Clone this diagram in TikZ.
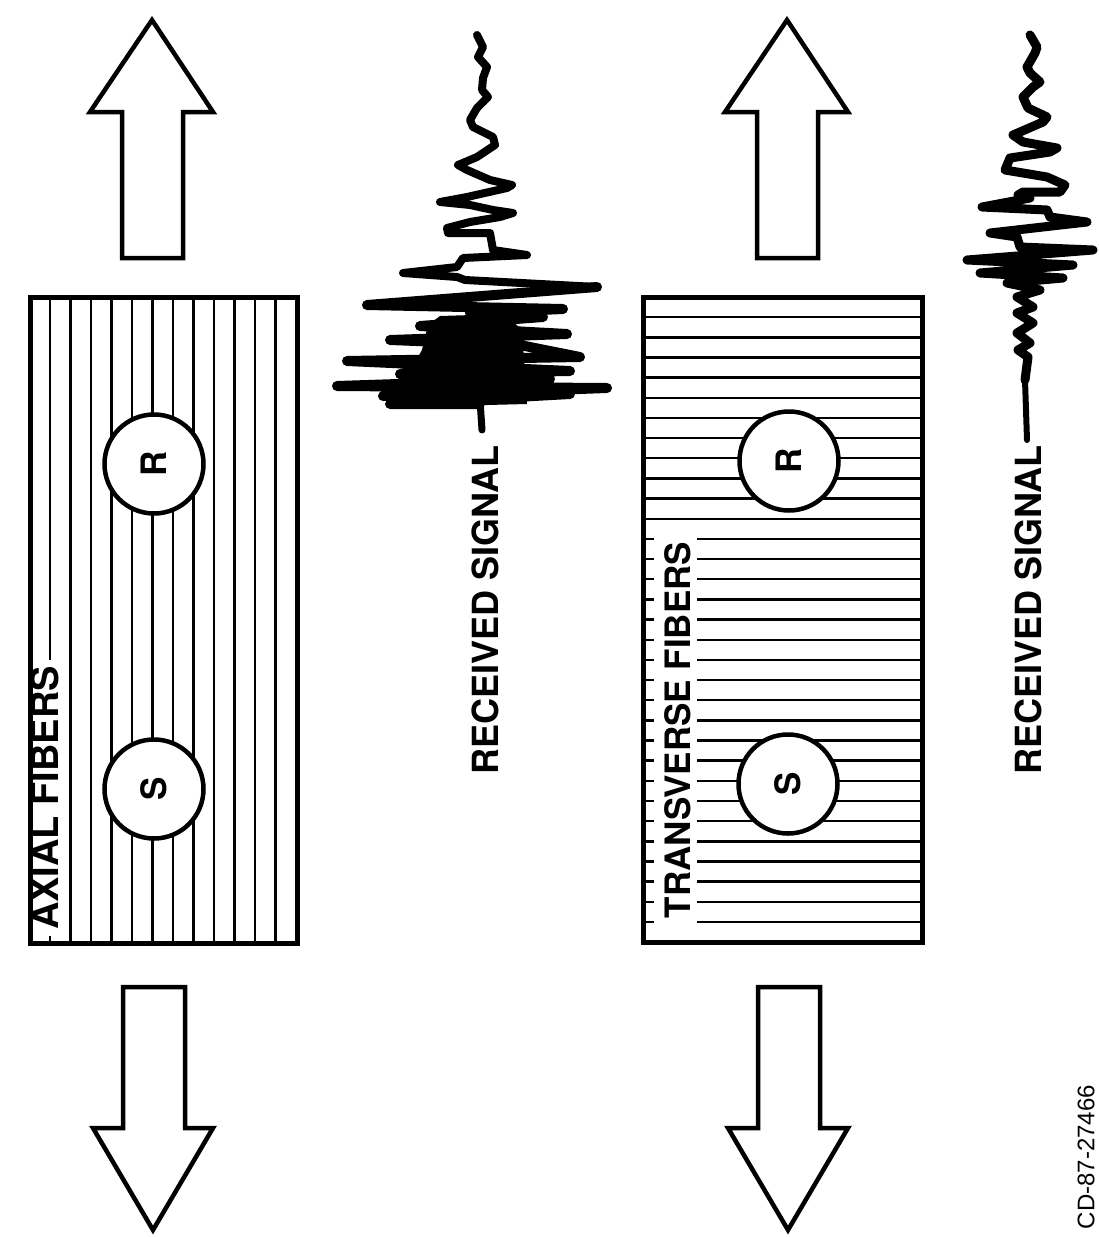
\documentclass[tikz,border=0pt]{standalone}
\usepackage{fontspec}
\setmainfont{TeX Gyre Heros}
\newfontfamily\cdfont{Liberation Sans}
\begin{document}
\begin{tikzpicture}[x=1pt,y=-1pt,
  frame/.style={line width=5pt,line join=miter},
  fiber/.style={line width=2.4pt},
  bigarrow/.style={draw,line width=4.5pt,line join=miter,fill=white},
  sensor/.style={circle,draw,line width=4.5pt,fill=white,minimum size=99pt,inner sep=0pt,
    rotate=90,font=\bfseries\fontsize{35}{35}\selectfont},
  lbl/.style={rotate=90,inner sep=0pt,font=\bfseries\fontsize{36}{36}\selectfont},
  sig/.style={line width=8pt,line join=round,line cap=round}]
\useasboundingbox (0,0) rectangle (1098,1237);

% ---------- arrows ----------
\draw[bigarrow] (152,20) -- (213,112) -- (183,112) -- (183,258) -- (122,258) -- (122,112) -- (90,112) -- cycle;
\draw[bigarrow] (787,20) -- (848,112) -- (818,112) -- (818,258) -- (757,258) -- (757,112) -- (725,112) -- cycle;
\draw[bigarrow] (153,1230) -- (213,1128) -- (185,1128) -- (185,987) -- (123,987) -- (123,1128) -- (93,1128) -- cycle;
\draw[bigarrow] (788,1230) -- (848,1128) -- (820,1128) -- (820,987) -- (758,987) -- (758,1128) -- (728,1128) -- cycle;

% ---------- axial fibers (left panel) ----------
\foreach \k in {1,...,11} \draw[fiber] ({50+20.5*\k},297) -- ({50+20.5*\k},943);
\draw[fiber] (50,297) -- (50,660);
\draw[fiber] (50,936) -- (50,943);
\node[lbl,font=\bfseries\fontsize{38}{38}\selectfont] (axlbl) at (45,798) {AXIAL FIBERS};
\node[sensor] (R1) at (154,464) {R};
\node[sensor] (S1) at (154,789) {S};
\draw[frame] (30,297) rectangle (297,943);

% ---------- transverse fibers (right panel) ----------
\foreach \k in {1,...,11} \draw[fiber] (643,{297+20.16*\k}) -- (922,{297+20.16*\k});
\foreach \k in {12,...,31} {
  \draw[fiber] (643,{297+20.16*\k}) -- (654,{297+20.16*\k});
  \draw[fiber] (697,{297+20.16*\k}) -- (922,{297+20.16*\k});
}
\node[lbl,font=\bfseries\fontsize{35}{35}\selectfont] (trlbl) at (678,730) {TRANSVERSE FIBERS};
\node[sensor] (R2) at (789,461) {R};
\node[sensor] (S2) at (788,784) {S};
\draw[frame] (643,297) rectangle (922,942);

% ---------- left received signal ----------
\draw[sig] (477,35) -- (483,47) -- (478,57) -- (487,67) -- (483,78) -- (482,90) -- (488,97)
  -- (477,108) -- (470,120) -- (473,127) -- (493,137) -- (495,145) -- (477,157) -- (458,165)
  -- (467,170) -- (490,180) -- (512,185) -- (507,188) -- (467,197) -- (440,202) -- (470,205)
  -- (493,210) -- (513,213) -- (500,217) -- (470,222) -- (447,228) -- (448,233) -- (490,233)
  -- (493,250) -- (527,255) -- (463,258) -- (457,267) -- (403,273) -- (457,277) -- (465,280)
  -- (597,287);
\draw[sig,line width=10pt] (597,287) -- (367,305) -- (563,309) -- (470,313) -- (543,317)
  -- (420,326) -- (567,334) -- (390,340) -- (520,345) -- (580,357) -- (347,361) -- (570,371)
  -- (400,374) -- (550,379) -- (337,386) -- (607,388) -- (383,396) -- (570,394) -- (390,404)
  -- (480,404);
\fill (440,316) -- (505,314) -- (522,330) -- (527,404) -- (408,407) -- (405,380) -- (422,350) -- (428,325) -- cycle;
\draw[sig,line width=7pt] (480,400) -- (482,430);
\node[lbl] (sig1) at (485,610) {RECEIVED SIGNAL};

% ---------- right received signal ----------
\draw[sig,line width=9pt] (1030,35) -- (1037,47) -- (1035,53) -- (1027,67) -- (1030,73) -- (1040,82)
  -- (1033,87) -- (1023,97) -- (1028,108) -- (1047,117) -- (1043,122) -- (1013,135) -- (1023,142)
  -- (1057,148) -- (1050,152) -- (1010,158) -- (1005,170) -- (1047,177) -- (1065,185) -- (1060,192)
  -- (1023,192) -- (1018,195) -- (1030,198) -- (982,207) -- (1047,210) -- (1050,217) -- (1087,222)
  -- (990,233) -- (1017,237) -- (1020,247) -- (1093,250) -- (967,260) -- (1073,265) -- (980,273)
  -- (1063,278) -- (1007,283) -- (1040,290) -- (1017,297) -- (1033,307) -- (1017,313) -- (1033,323)
  -- (1017,333) -- (1030,343) -- (1018,350) -- (1028,357) -- (1025,380);
\draw[sig,line width=6pt] (1025,380) -- (1027,440);
\node[lbl] (sig2) at (1028,610) {RECEIVED SIGNAL};

% ---------- catalogue number ----------
\node[rotate=90,inner sep=0pt,font=\cdfont\fontsize{24}{24}\selectfont] (cd) at (1086,1157) {CD-87-27466};
\end{tikzpicture}
\end{document}
